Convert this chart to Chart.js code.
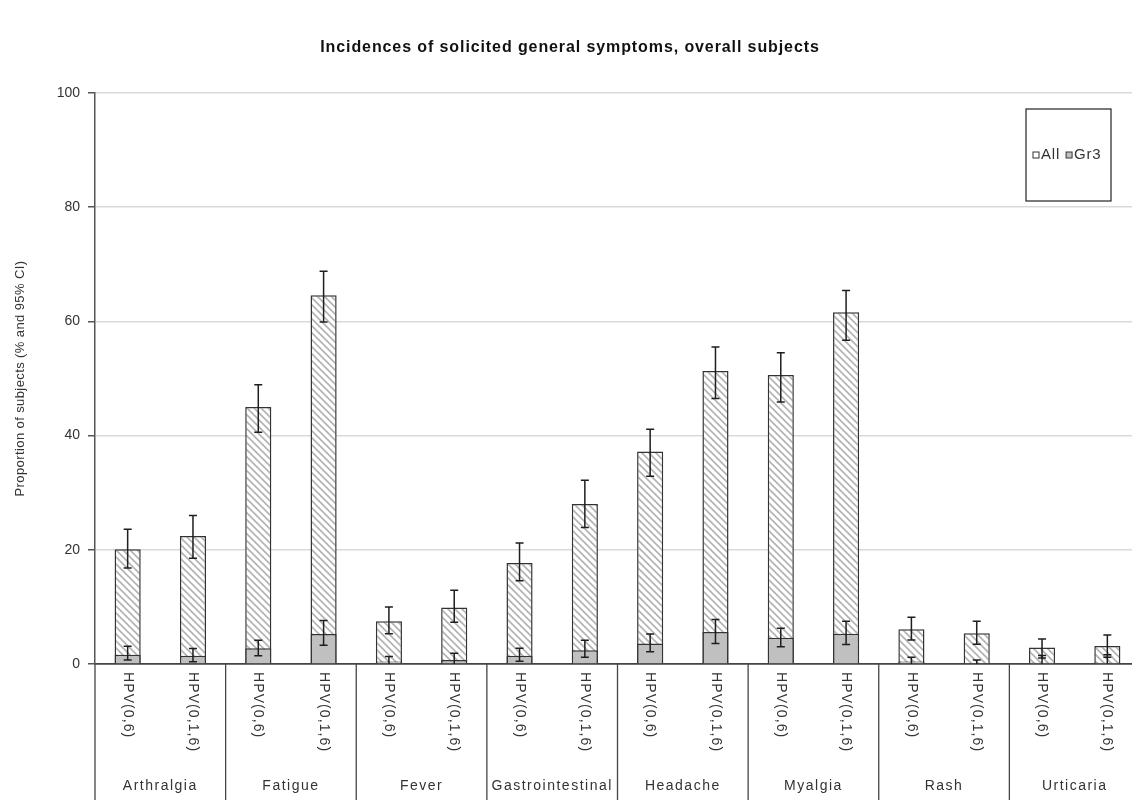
<!DOCTYPE html>
<html>
<head>
<meta charset="utf-8">
<script src="https://cdn.jsdelivr.net/npm/chart.js@4.4.1/dist/chart.umd.min.js"></script>
<style>
  html, body { margin: 0; padding: 0; background: #fff; overflow: hidden; }
  #wrap { position: relative; width: 1140px; height: 800px; }
</style>
</head>
<body>
<div id="wrap"><canvas id="c"></canvas></div>
<script>
const chartTitle = 'Incidences of solicited general symptoms, overall subjects';
const yAxisTitle = 'Proportion of subjects (% and 95% CI)';
const categories = ['Arthralgia', 'Fatigue', 'Fever', 'Gastrointestinal', 'Headache', 'Myalgia', 'Rash', 'Urticaria'];
const schedules = ['HPV(0,6)', 'HPV(0,1,6)'];
const yTicks = [0, 20, 40, 60, 80, 100];
const seriesNames = ['All', 'Gr3'];

const allValues = [20.1, 22.4, 45.0, 64.6, 7.5, 9.9, 17.7, 28.0, 37.2, 51.3, 50.6, 61.6, 6.1, 5.4, 2.9, 3.15];
const allLower  = [16.8, 18.5, 40.6, 59.9, 5.3, 7.3, 14.6, 23.9, 32.9, 46.5, 45.9, 56.7, 4.2, 3.45, 1.05, 1.2];
const allUpper  = [23.6, 26.0, 48.9, 68.8, 10.0, 12.9, 21.2, 32.2, 41.1, 55.5, 54.5, 65.4, 8.2, 7.5, 4.4, 5.1];

const gr3Values = [1.6, 1.45, 2.75, 5.25, 0.45, 0.7, 1.45, 2.4, 3.6, 5.6, 4.6, 5.3, 0.45, 0.1, 0.2, 0.2];
const gr3Lower  = [0.7, 0.4, 1.45, 3.3, 0, 0, 0.5, 1.2, 2.15, 3.6, 3.0, 3.4, 0, 0, 0, 0];
const gr3Upper  = [3.1, 2.7, 4.15, 7.6, 1.3, 1.9, 2.75, 4.15, 5.25, 7.8, 6.25, 7.5, 1.2, 0.7, 1.5, 1.6];

const FONT = "'Liberation Sans', Arial, sans-serif";

const labels = [];
categories.forEach(c => schedules.forEach(s => labels.push(c + ' ' + s)));

function hatchPattern() {
  const n = 7;
  const c = document.createElement('canvas');
  c.width = n; c.height = n;
  const g = c.getContext('2d');
  g.fillStyle = '#ffffff';
  g.fillRect(0, 0, n, n);
  g.strokeStyle = '#b4b4b4';
  g.lineWidth = 1.7;
  g.beginPath();
  g.moveTo(-1, -1); g.lineTo(n + 1, n + 1);
  g.moveTo(-1, n - 1); g.lineTo(1, n + 1);
  g.moveTo(n - 1, -1); g.lineTo(n + 1, 1);
  g.stroke();
  return g.createPattern(c, 'repeat');
}

const errorData = [
  { low: allLower, high: allUpper },
  { low: gr3Lower, high: gr3Upper }
];

const errorBarPlugin = {
  id: 'errorBars',
  afterDatasetsDraw(chart) {
    const ctx = chart.ctx;
    const y = chart.scales.y;
    ctx.save();
    ctx.strokeStyle = '#1e1e1e';
    ctx.lineWidth = 1.5;
    chart.data.datasets.forEach((ds, di) => {
      const meta = chart.getDatasetMeta(di);
      const err = errorData[di];
      meta.data.forEach((bar, i) => {
        const x = bar.x;
        const yl = y.getPixelForValue(err.low[i]);
        const yh = y.getPixelForValue(err.high[i]);
        const cw = 4;
        ctx.beginPath();
        ctx.moveTo(x, yl); ctx.lineTo(x, yh);
        ctx.moveTo(x - cw, yh); ctx.lineTo(x + cw, yh);
        if (err.low[i] > 0) { ctx.moveTo(x - cw, yl); ctx.lineTo(x + cw, yl); }
        ctx.stroke();
      });
    });
    ctx.restore();
  }
};

const decorPlugin = {
  id: 'decor',
  afterDraw(chart) {
    const ctx = chart.ctx;
    const xs = chart.scales.x;
    const area = chart.chartArea;
    ctx.save();

    // Title
    ctx.fillStyle = '#111';
    ctx.font = 'bold 16px ' + FONT;
    ctx.textAlign = 'center';
    ctx.textBaseline = 'middle';
    ctx.letterSpacing = '0.9px';
    ctx.fillText(chartTitle, 570, 48);

    // Y axis title
    ctx.save();
    ctx.font = '13px ' + FONT;
    ctx.fillStyle = '#333';
    ctx.translate(20, (area.top + area.bottom) / 2);
    ctx.rotate(-Math.PI / 2);
    ctx.letterSpacing = '0.4px';
    ctx.fillText(yAxisTitle, 0, 0);
    ctx.restore();

    // X labels (rotated clockwise)
    const step = xs.getPixelForValue(1) - xs.getPixelForValue(0);
    ctx.font = '14px ' + FONT;
    ctx.fillStyle = '#333';
    ctx.letterSpacing = '1.1px';
    labels.forEach((lab, i) => {
      const x = xs.getPixelForValue(i);
      ctx.save();
      ctx.translate(x, area.bottom + 8);
      ctx.rotate(Math.PI / 2);
      ctx.textAlign = 'left';
      ctx.textBaseline = 'middle';
      ctx.fillText(schedules[i % schedules.length], 0, 0);
      ctx.restore();
    });

    // Group dividers and labels
    ctx.strokeStyle = '#444';
    ctx.lineWidth = 1.3;
    ctx.letterSpacing = '1.5px';
    ctx.font = '14px ' + FONT;
    ctx.textAlign = 'center';
    ctx.textBaseline = 'middle';
    const n = schedules.length;
    categories.forEach((cat, g) => {
      const first = xs.getPixelForValue(g * n);
      const last = xs.getPixelForValue(g * n + n - 1);
      const left = first - step / 2;
      ctx.beginPath();
      ctx.moveTo(left, area.bottom);
      ctx.lineTo(left, chart.height);
      ctx.stroke();
      ctx.fillText(cat, (first + last) / 2, 786);
    });
    const lastRight = xs.getPixelForValue(labels.length - 1) + step / 2;
    ctx.beginPath();
    ctx.moveTo(lastRight, area.bottom);
    ctx.lineTo(lastRight, chart.height);
    ctx.stroke();

    // Legend
    const bx = 1026, by = 109, bw = 85, bh = 92;
    ctx.fillStyle = '#fff';
    ctx.fillRect(bx, by, bw, bh);
    ctx.strokeStyle = '#222';
    ctx.lineWidth = 1.2;
    ctx.strokeRect(bx, by, bw, bh);
    ctx.font = '15px ' + FONT;
    ctx.letterSpacing = '0.8px';
    ctx.textAlign = 'left';
    ctx.textBaseline = 'middle';
    let lx = bx + 7;
    const ly = by + bh / 2;
    const fills = ['#ffffff', '#c0c0c0'];
    seriesNames.forEach((name, k) => {
      ctx.fillStyle = fills[k];
      ctx.fillRect(lx, ly - 3, 6, 6);
      ctx.strokeStyle = '#333';
      ctx.lineWidth = 1;
      ctx.strokeRect(lx, ly - 3, 6, 6);
      lx += 8;
      ctx.fillStyle = '#333';
      ctx.fillText(name, lx, ly);
      lx += ctx.measureText(name).width + 6;
    });

    ctx.restore();
  }
};

const hatch = hatchPattern();

new Chart(document.getElementById('c'), {
  type: 'bar',
  data: {
    labels: labels,
    datasets: [
      {
        label: seriesNames[0],
        data: allValues,
        backgroundColor: hatch,
        borderColor: '#333',
        borderWidth: 1.5,
        grouped: false,
        order: 1,
        barPercentage: 0.4,
        categoryPercentage: 1.0
      },
      {
        label: seriesNames[1],
        data: gr3Values,
        backgroundColor: '#c0c0c0',
        borderColor: '#333',
        borderWidth: 1.5,
        grouped: false,
        order: 0,
        barPercentage: 0.4,
        categoryPercentage: 1.0
      }
    ]
  },
  options: {
    responsive: true,
    maintainAspectRatio: false,
    animation: false,
    devicePixelRatio: 1,
    layout: { padding: { top: 93, right: 0, left: 0, bottom: 0 } },
    plugins: {
      legend: { display: false },
      tooltip: { enabled: false },
      title: { display: false }
    },
    scales: {
      x: {
        type: 'category',
        grid: { display: false },
        border: { display: true, color: '#444', width: 1.5 },
        ticks: { display: false },
        afterFit(scale) { scale.height = 136; }
      },
      y: {
        min: 0,
        max: 100,
        afterBuildTicks(scale) { scale.ticks = yTicks.map(v => ({ value: v })); },
        ticks: {
          color: '#333',
          font: { family: FONT, size: 14 },
          padding: 8
        },
        grid: {
          color: ctx => (ctx.tick && ctx.tick.value === 0) ? '#444' : '#d9d9d9',
          lineWidth: 1.5,
          tickLength: 7,
          tickColor: '#555'
        },
        border: { display: true, color: '#555', width: 1.5 },
        afterFit(scale) { scale.width = 95; }
      }
    }
  },
  plugins: [errorBarPlugin, decorPlugin]
});
</script>
</body>
</html>
